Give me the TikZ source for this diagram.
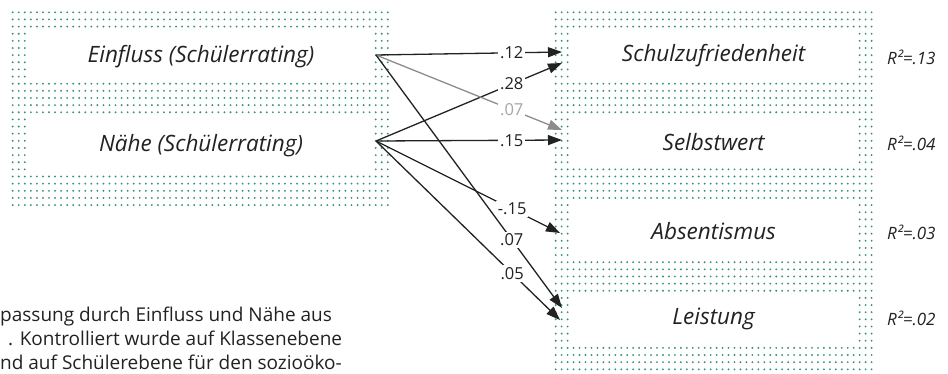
\documentclass[tikz,border=0pt]{standalone}
\usepackage{fontspec}
\setmainfont{Open Sans}
\usetikzlibrary{arrows.meta}

\definecolor{dotteal}{RGB}{52,146,126}
\definecolor{ink}{RGB}{34,34,34}
\definecolor{greyline}{RGB}{140,140,140}
\definecolor{greytext}{RGB}{165,165,165}

\tikzset{
  dotrowL/.style={draw=dotteal, line width=2.1pt, line cap=round, dash pattern=on 0pt off 6.05pt},
  dotrowR/.style={draw=dotteal, line width=2.1pt, line cap=round, dash pattern=on 0pt off 5.96pt},
  varbox/.style={fill=white, inner sep=0pt},
  varlabel/.style={text=ink, inner sep=0pt, font=\fontsize{22.5}{26}\selectfont\itshape},
  rsq/.style={anchor=west, inner sep=0pt, text=ink, font=\fontsize{17}{20}\selectfont\itshape},
  path/.style={draw=ink, line width=1.3pt, -{Triangle[length=14pt,width=10pt]}},
  greypath/.style={path, draw=greyline, -{Triangle[length=14pt,width=10pt,fill=greyline]}},
  coef/.style={fill=white, inner sep=2pt, text=ink, font=\fontsize{16.5}{19}\selectfont, pos=0.73},
  greycoef/.style={coef, text=greytext},
  note/.style={anchor=base west, inner sep=0pt, text=ink, font=\fontsize{19}{23}\selectfont}
}

\begin{document}
\begin{tikzpicture}[x=1pt, y=-1pt]
\useasboundingbox (0,0) rectangle (948,373);
\clip (0,0) rectangle (948,373);

% dotted panels
\foreach \k in {0,...,27}
  \draw[dotrowL] (12.7,{12.3+7.14*\k}) -- ++(376.1,0);
\foreach \k in {0,...,50}
  \draw[dotrowR] (555.7,{12.3+7.14*\k}) -- ++(316.9,0);

% predictor boxes
\node[varbox, minimum width=344.9pt, minimum height=50pt] (ein) at (200.25,55.1) {};
\node[varbox, minimum width=344.9pt, minimum height=57.1pt] (nae) at (200.25,144.45) {};
\node[varlabel] (einT) at (201,57) {Einfluss (Schülerrating)};
\node[varlabel] (naeT) at (201,146) {Nähe (Schülerrating)};

% outcome boxes
\node[varbox, minimum width=286.1pt, minimum height=50pt] (szf) at (713.65,55.1) {};
\node[varbox, minimum width=286.1pt, minimum height=49.9pt] (sw) at (713.65,140.85) {};
\node[varbox, minimum width=286.1pt, minimum height=57.2pt] (abs) at (713.65,230.1) {};
\node[varbox, minimum width=286.1pt, minimum height=49.9pt] (lei) at (713.65,319.35) {};
\node[varlabel] (szfT) at (713.65,56) {Schulzufriedenheit};
\node[varlabel] (swT) at (713.65,142) {Selbstwert};
\node[varlabel] (absT) at (713.65,231) {Absentismus};
\node[varlabel] (leiT) at (713.65,319) {Leistung};

% explained variance
\node[rsq] (r1) at (887,57) {R²=.13};
\node[rsq] (r2) at (887,143) {R²=.04};
\node[rsq] (r3) at (887,232) {R²=.03};
\node[rsq] (r4) at (887,318) {R²=.02};

% path ports
\coordinate (e) at (376,55);
\coordinate (n) at (376,141);
\coordinate (szfA) at (562,52);
\coordinate (szfB) at (562,63);
\coordinate (swA) at (562,130);
\coordinate (swB) at (562,140);
\coordinate (absA) at (560,233);
\coordinate (leiA) at (562,308);
\coordinate (leiB) at (560,320);

% paths with coefficients
\draw[path] (e) -- node[coef] (c1) {.12} (szfA);
\draw[path] (n) -- node[coef] (c2) {.28} (szfB);
\draw[greypath] (e) -- node[greycoef] (c3) {.07} (swA);
\draw[path] (n) -- node[coef] (c4) {.15} (swB);
\draw[path] (n) -- node[coef, pos=0.74] (c5) {-.15} (absA);
\draw[path] (e) -- node[coef] (c6) {.07} (leiA);
\draw[path] (n) -- node[coef, pos=0.74] (c7) {.05} (leiB);

% caption text
\node[note] (l1) at (0,321) {passung durch Einfluss und Nähe aus};
\node[note] (l2) at (8,345) {. Kontrolliert wurde auf Klassenebene};
\node[note] (l3) at (0,369) {nd auf Schülerebene für den sozioöko-};
\end{tikzpicture}
\end{document}
